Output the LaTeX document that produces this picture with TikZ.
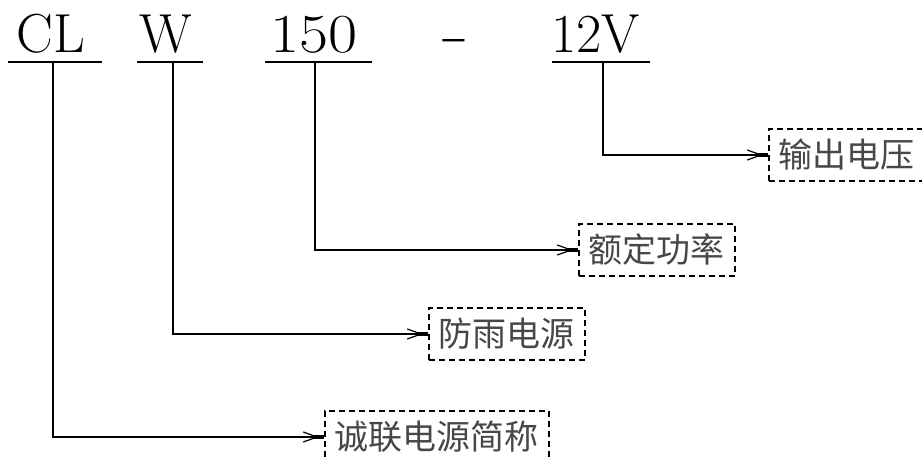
\documentclass[tikz,border=0pt]{standalone}
\usepackage{fontspec}
\newfontfamily\cjk{Noto Sans CJK SC}
\usetikzlibrary{arrows.meta}
\begin{document}
\begin{tikzpicture}[x=0.5pt,y=-0.5pt,
  code/.style={inner sep=0pt,anchor=base west,font=\fontsize{27.5}{30}\selectfont},
  uline/.style={line width=1pt},
  conn/.style={line width=1pt,-{Straight Barb[length=7pt,width=5pt,line width=0.6pt,sep=-3pt] Rectangle[length=5.5pt,width=2pt]}},
  lab/.style={draw,dashed,dash pattern=on 3pt off 2pt,line width=0.75pt,anchor=west,
    minimum height=26pt,inner xsep=5pt,inner ysep=0pt,text=black!72,
    font=\cjk\fontsize{17}{20}\selectfont}]
\useasboundingbox (0,0) rectangle (922,461);
\clip (0,0) rectangle (922,461);
% top code letters
\node[code] (tCL) at (16,52) {CL};
\node[code] (tW) at (139,52) {W};
\node[code,xscale=1.15] (t150) at (270,52) {150};
\node[code,xscale=1.6] (tdash) at (442,52) {-};
\node[code] (t12V) at (551,52) {12V};
% underlines
\coordinate (l1a) at (8,62);   \coordinate (l1b) at (102,62);
\coordinate (l2a) at (137,62); \coordinate (l2b) at (203,62);
\coordinate (l3a) at (265,62); \coordinate (l3b) at (372,62);
\coordinate (l4a) at (552,62); \coordinate (l4b) at (650,62);
\draw[uline] (l1a) -- (l1b);
\draw[uline] (l2a) -- (l2b);
\draw[uline] (l3a) -- (l3b);
\draw[uline] (l4a) -- (l4b);
% connector start points
\coordinate (s1) at (53,62);
\coordinate (s2) at (173,62);
\coordinate (s3) at (315,62);
\coordinate (s4) at (603,62);
% label boxes
\node[lab] (b4) at (768,155) {输出电压};
\node[lab] (b3) at (578,250) {额定功率};
\node[lab] (b2) at (428,334) {防雨电源};
\node[lab] (b1) at (324,437) {诚联电源简称};
% connectors
\draw[conn] (s4) |- (b4.west);
\draw[conn] (s3) |- (b3.west);
\draw[conn] (s2) |- (b2.west);
\draw[conn] (s1) |- (b1.west);
\end{tikzpicture}
\end{document}
